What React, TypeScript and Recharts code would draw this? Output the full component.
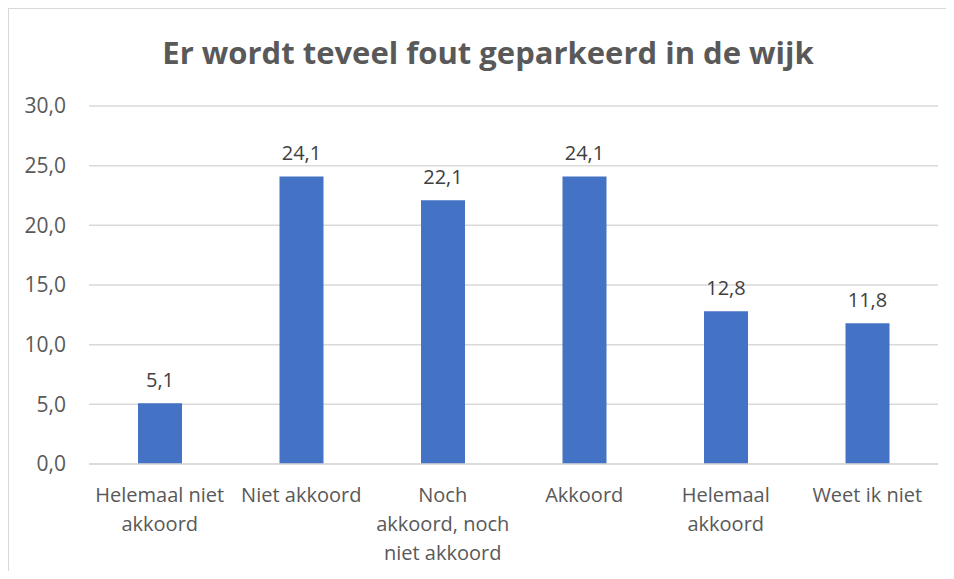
import React from 'react';
import { BarChart, Bar, XAxis, YAxis, CartesianGrid, LabelList } from 'recharts';

const categories = [
  'Helemaal niet akkoord',
  'Niet akkoord',
  'Noch akkoord, noch niet akkoord',
  'Akkoord',
  'Helemaal akkoord',
  'Weet ik niet'
];
const values = [5.1, 24.1, 22.1, 24.1, 12.8, 11.8];
const tickLines = [
  ['Helemaal niet', 'akkoord'],
  ['Niet akkoord'],
  ['Noch', 'akkoord, noch', 'niet akkoord'],
  ['Akkoord'],
  ['Helemaal', 'akkoord'],
  ['Weet ik niet']
];
const yTicks = [0, 5, 10, 15, 20, 25, 30];

const data = categories.map((name, i) => ({ name, value: values[i] }));

const FONT = '"Open Sans", sans-serif';
const fmt = (v: number) => v.toFixed(1).replace('.', ',');

const CategoryTick = (props: any) => {
  const { x, y, payload } = props;
  const idx = categories.indexOf(payload.value);
  const lines = tickLines[idx] || [];
  return (
    <text x={x} y={y} textAnchor="middle" fill="#595959" fontSize={20} fontFamily={FONT}>
      {lines.map((line, i) => (
        <tspan key={i} x={x} y={464 + 38 + i * 29}>
          {line}
        </tspan>
      ))}
    </text>
  );
};

const App = () => {
  return (
    <div style={{ position: 'relative', margin: -8, width: 954, height: 579, background: '#fff', overflow: 'hidden' }}>
      <div
        style={{
          position: 'absolute',
          left: 7,
          top: 7,
          width: 960,
          height: 600,
          borderTop: '2px solid #d9d9d9',
          borderLeft: '2px solid #d9d9d9',
          boxSizing: 'border-box'
        }}
      />
      <div
        style={{
          position: 'absolute',
          left: 0,
          top: 31,
          width: 976,
          textAlign: 'center',
          fontFamily: FONT,
          fontWeight: 700,
          fontSize: 31,
          lineHeight: '42px',
          color: '#595959'
        }}
      >
        Er wordt teveel fout geparkeerd in de wijk
      </div>
      <BarChart
        width={954}
        height={579}
        data={data}
        margin={{ top: 106, right: 16, bottom: 0, left: 29 }}
        style={{ position: 'absolute', left: 0, top: 0 }}
      >
        <CartesianGrid vertical={false} stroke="#d9d9d9" strokeWidth={1.5} />
        <XAxis
          dataKey="name"
          axisLine={{ stroke: '#d9d9d9', strokeWidth: 1.5 }}
          tickLine={false}
          tickSize={0}
          tickMargin={0}
          interval={0}
          height={115}
          tick={<CategoryTick />}
        />
        <YAxis
          width={60}
          domain={[0, 30]}
          ticks={yTicks}
          axisLine={false}
          tickLine={false}
          tickSize={0}
          tickMargin={23}
          tickFormatter={fmt}
          tick={{ fill: '#595959', fontSize: 21, fontFamily: FONT }}
        />
        <Bar dataKey="value" fill="#4472C4" barSize={44} isAnimationActive={false}>
          <LabelList
            dataKey="value"
            position="top"
            offset={16}
            formatter={(v: any) => fmt(Number(v))}
            style={{ fill: '#404040', fontSize: 20, fontFamily: FONT }}
          />
        </Bar>
      </BarChart>
    </div>
  );
};

export default App;
